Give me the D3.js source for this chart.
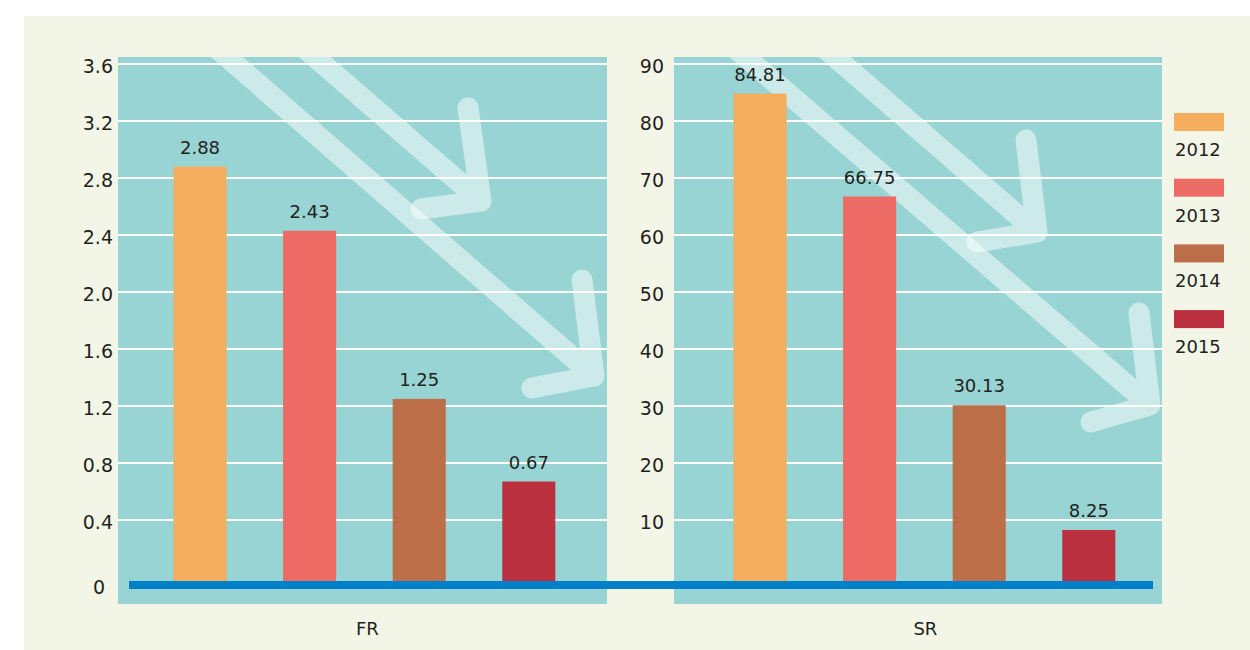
<!DOCTYPE html>
<html>
<head>
<meta charset="utf-8">
<script src="https://cdn.jsdelivr.net/npm/d3@7"></script>
<style>
  html, body { margin: 0; padding: 0; background: #ffffff; }
  svg { display: block; font-family: "DejaVu Sans", sans-serif; }
</style>
</head>
<body>
<svg id="chart" width="1250" height="650"></svg>
<script>
// ---- data ----
const categories = ["FR", "SR"];
const years = ["2012", "2013", "2014", "2015"];
const frValues = [2.88, 2.43, 1.25, 0.67];
const srValues = [84.81, 66.75, 30.13, 8.25];
const frTicks = [0, 0.4, 0.8, 1.2, 1.6, 2.0, 2.4, 2.8, 3.2, 3.6];
const frTickLabels = ["0", "0.4", "0.8", "1.2", "1.6", "2.0", "2.4", "2.8", "3.2", "3.6"];
const srTicks = [10, 20, 30, 40, 50, 60, 70, 80, 90];
const srTickLabels = ["10", "20", "30", "40", "50", "60", "70", "80", "90"];
const yearColors = ["#f5ae5e", "#ec6b65", "#bc6e48", "#ba303f"];

// ---- layout ----
const svg = d3.select("#chart");
const W = 1250, H = 650;
const panelTop = 57, panelBottom = 604;
const y0px = 577, yTopPx = 64;

svg.append("rect").attr("x", 24).attr("y", 16).attr("width", W - 24).attr("height", H - 16)
  .attr("fill", "#f3f6e7");

const panels = [
  { name: categories[0], values: frValues, ticks: frTicks, labels: frTickLabels, max: 3.6,
    px0: 118, px1: 607, band0: 145.2, axisX: 116, labelShift: 3 },
  { name: categories[1], values: srValues, ticks: srTicks, labels: srTickLabels, max: 90,
    px0: 674, px1: 1162, band0: 705.2, axisX: 667, labelShift: 1 }
];
const step = 109.6;

// decorative trend arrows, in panel-relative pixels [start, tip, arm1, arm2]
const arrowShapes = [
  [[197, 0], [363, 144], [350, 51], [303, 152]],
  [[109, 0], [476, 319], [464, 223], [414, 331]]
];
const arrowShapesSR = [
  [[161, 0], [363, 175], [352, 83], [303, 185]],
  [[71.5, 0], [476, 348], [465, 256], [417, 365]]
];

panels.forEach((p, pi) => {
  const g = svg.append("g");
  const y = d3.scaleLinear().domain([0, p.max]).range([y0px, yTopPx]);
  const x = d3.scaleBand().domain(years).range([p.band0, p.band0 + 4 * step])
    .paddingInner(0.516).paddingOuter(0.258);

  // panel background
  g.append("rect").attr("x", p.px0).attr("y", panelTop)
    .attr("width", p.px1 - p.px0).attr("height", panelBottom - panelTop)
    .attr("fill", "#97d4d3");

  // clip for arrows
  const clipId = "clip" + pi;
  svg.append("clipPath").attr("id", clipId).append("rect")
    .attr("x", p.px0).attr("y", panelTop)
    .attr("width", p.px1 - p.px0).attr("height", panelBottom - panelTop);

  // arrows
  const shapes = pi === 0 ? arrowShapes : arrowShapesSR;
  const ag = g.append("g").attr("clip-path", `url(#${clipId})`);
  shapes.forEach(s => {
    const pt = q => [p.px0 + q[0], panelTop + q[1]];
    const st = pt(s[0]), tip = pt(s[1]), a1 = pt(s[2]), a2 = pt(s[3]);
    const dx = tip[0] - st[0], dy = tip[1] - st[1];
    const ext = [st[0] - dx * 0.2, st[1] - dy * 0.2];
    const path = `M${ext[0]},${ext[1]}L${tip[0]},${tip[1]}M${a1[0]},${a1[1]}L${tip[0]},${tip[1]}L${a2[0]},${a2[1]}`;
    ag.append("path").attr("d", path)
      .attr("fill", "none").attr("stroke", "#ffffff").attr("stroke-opacity", 0.5)
      .attr("stroke-width", 21).attr("stroke-linecap", "round").attr("stroke-linejoin", "round");
  });

  // gridlines
  g.append("g").selectAll("line").data(p.ticks.filter(t => t > 0)).join("line")
    .attr("x1", p.px0).attr("x2", p.px1)
    .attr("y1", d => y(d)).attr("y2", d => y(d))
    .attr("stroke", "#ffffff").attr("stroke-width", 2);

  // y axis labels
  const axis = d3.axisLeft(y).tickValues(p.ticks).tickSize(0).tickPadding(3)
    .tickFormat((d, i) => p.labels[i]);
  const ax = g.append("g").attr("transform", `translate(${p.axisX},0)`).call(axis);
  ax.select(".domain").remove();
  ax.selectAll("text").attr("font-size", 19).attr("fill", "#231f20")
    .attr("font-family", "DejaVu Sans, sans-serif")
    .attr("transform", d => d === 0 ? "translate(-8,10)" : "translate(0,2)");

  // bars
  g.append("g").selectAll("rect").data(p.values).join("rect")
    .attr("x", (d, i) => x(years[i]))
    .attr("y", d => y(d))
    .attr("width", x.bandwidth())
    .attr("height", d => y0px + 6 - y(d))
    .attr("fill", (d, i) => yearColors[i]);

  // value labels
  g.append("g").selectAll("text").data(p.values).join("text")
    .attr("x", (d, i) => x(years[i]) + x.bandwidth() / 2)
    .attr("y", d => y(d) - 13)
    .attr("text-anchor", "middle")
    .attr("font-size", 18).attr("fill", "#231f20")
    .text(d => d.toFixed(2));

  // category label
  const r = x.range();
  g.append("text").attr("x", (r[0] + r[1]) / 2 + p.labelShift).attr("y", 635)
    .attr("text-anchor", "middle").attr("font-size", 18).attr("fill", "#231f20")
    .text(p.name);
});

// baseline
svg.append("line").attr("x1", 129).attr("x2", 1153)
  .attr("y1", y0px + 8).attr("y2", y0px + 8)
  .attr("stroke", "#0080c8").attr("stroke-width", 8);

// legend
const lg = svg.append("g").attr("transform", "translate(1174,113)");
const li = lg.selectAll("g").data(years).join("g")
  .attr("transform", (d, i) => `translate(0,${i * 65.7})`);
li.append("rect").attr("width", 50).attr("height", 18).attr("fill", (d, i) => yearColors[i]);
li.append("text").attr("x", 1).attr("y", 43).attr("font-size", 18).attr("fill", "#231f20").text(d => d);
</script>
</body>
</html>
